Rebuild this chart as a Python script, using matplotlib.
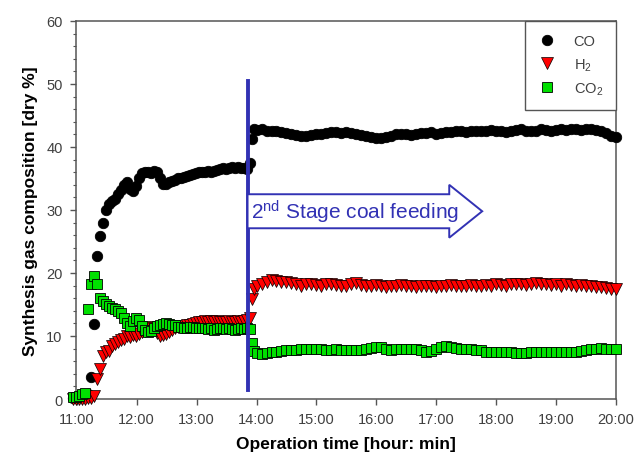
import matplotlib
matplotlib.use("Agg")
import matplotlib.pyplot as plt
from matplotlib.patches import Polygon


# --------------------------------
# Data (minutes after 11:00)
# --------------------------------

time_min = [
    -4, -1, 2, 5, 8, 11, 14, 17, 20, 23, 26, 29, 32, 35, 38, 41, 44, 47, 50, 53,
    56, 59, 62, 65, 68, 71, 74, 77, 80, 83, 86, 89, 92, 95, 98, 101, 104, 107, 110, 113,
    116, 119, 122, 125, 128, 131, 134, 137, 140, 143, 146, 149, 152, 155, 158, 161, 164, 167, 170, 173,
    175, 177,
    180, 185, 190, 195, 200, 205, 210, 215, 220, 225, 230, 235, 240, 245, 250, 255, 260, 265, 270, 275,
    280, 285, 290, 295, 300, 305, 310, 315, 320, 325, 330, 335, 340, 345, 350, 355, 360, 365, 370, 375,
    380, 385, 390, 395, 400, 405, 410, 415, 420, 425, 430, 435, 440, 445, 450, 455, 460, 465, 470, 475,
    480, 485, 490, 495, 500, 505, 510, 515, 520, 525, 530, 535, 540,
]

co = [
    0.2, 0.3, 0.3, 0.4, 0.5, 0.8, 3.5, 11.9, 22.7, 25.9, 28.0, 30.0, 31.0, 31.4, 31.8, 32.6, 33.2, 34.0, 34.4, 33.4,
    33.0, 33.8, 35.0, 35.8, 36.0, 36.1, 35.9, 36.2, 36.0, 35.0, 34.2, 34.2, 34.4, 34.6, 34.8, 35.0, 35.1, 35.3, 35.4, 35.6,
    35.7, 35.9, 36.0, 36.1, 36.1, 36.2, 36.1, 36.2, 36.4, 36.5, 36.6, 36.5, 36.7, 36.8, 36.7, 36.8, 36.6, 36.6, 36.5, 37.4,
    41.3, 42.8,
    42.7, 42.8, 42.6, 42.5, 42.6, 42.4, 42.2, 42.0, 41.9, 41.8, 41.8, 41.9, 42.0, 42.1, 42.2, 42.3, 42.3, 42.2, 42.4, 42.2,
    42.0, 41.9, 41.8, 41.6, 41.5, 41.4, 41.6, 41.8, 42.0, 42.1, 42.0, 41.9, 42.1, 42.2, 42.2, 42.3, 42.1, 42.2, 42.4, 42.3,
    42.5, 42.6, 42.4, 42.5, 42.6, 42.5, 42.6, 42.7, 42.6, 42.5, 42.4, 42.6, 42.7, 42.8, 42.6, 42.5, 42.6, 42.8, 42.7, 42.6,
    42.7, 42.8, 42.7, 42.9, 42.8, 42.7, 42.8, 42.9, 42.7, 42.5, 42.2, 41.8, 41.6,
]

h2 = [
    0.0, 0.0, 0.0, 0.0, 0.0, 0.1, 0.2, 0.4, 3.2, 4.8, 6.8, 7.4, 7.6, 8.4, 8.8, 9.0, 9.3, 9.6, 10.0, 9.8,
    10.1, 10.0, 10.3, 10.6, 10.8, 11.2, 11.4, 11.2, 10.4, 10.0, 10.1, 10.3, 10.6, 10.9, 11.2, 11.4, 11.5, 11.6, 11.7, 11.8,
    11.9, 12.1, 12.2, 12.3, 12.4, 12.3, 12.4, 12.3, 12.4, 12.3, 12.2, 12.3, 12.4, 12.3, 12.2, 12.4, 12.3, 12.4, 12.5, 12.9,
    15.9, 17.5,
    18.0, 18.3, 18.6, 18.9, 18.8, 18.6, 18.5, 18.4, 18.2, 18.0, 18.2, 18.3, 18.1, 18.0, 18.2, 18.3, 18.1, 17.9, 18.0, 18.2,
    18.4, 18.1, 17.9, 18.0, 18.1, 17.9, 17.7, 17.9, 18.0, 18.1, 18.0, 17.9, 17.8, 17.9, 18.0, 18.0, 17.8, 17.9, 18.0, 18.1,
    18.0, 17.9, 18.0, 18.1, 17.9, 18.0, 18.1, 18.0, 18.2, 18.1, 18.0, 18.2, 18.3, 18.2, 18.1, 18.2, 18.4, 18.3, 18.2, 18.1,
    18.2, 18.0, 18.2, 18.1, 18.0, 18.1, 17.9, 18.0, 17.8, 17.7, 17.6, 17.5, 17.4,
]

co2 = [
    0.3, 0.3, 0.4, 0.8, 0.9, 14.3, 18.3, 19.5, 18.2, 16.0, 15.5, 15.1, 14.8, 14.5, 14.3, 14.0, 13.6, 12.8, 12.0, 11.6,
    12.4, 12.8, 12.6, 11.6, 11.0, 10.6, 10.8, 11.2, 11.6, 11.8, 11.9, 12.0, 11.9, 11.8, 11.7, 11.5, 11.4, 11.3, 11.2, 11.4,
    11.4, 11.3, 11.2, 11.3, 11.2, 11.1, 11.2, 11.0, 11.1, 11.3, 11.2, 11.1, 11.2, 11.1, 11.0, 11.1, 11.2, 11.1, 11.2, 11.1,
    8.9, 7.6,
    7.3, 7.2, 7.3, 7.4, 7.5, 7.6, 7.7, 7.8, 7.8, 7.9, 7.9, 7.9, 7.9, 7.9, 7.8, 7.8, 7.9, 7.8, 7.7, 7.8,
    7.8, 7.8, 7.9, 8.1, 8.3, 8.2, 7.9, 7.8, 7.9, 8.0, 8.0, 7.9, 8.0, 7.8, 7.5, 7.6, 8.0, 8.3, 8.4, 8.2,
    8.1, 8.0, 7.9, 7.9, 7.8, 7.7, 7.5, 7.4, 7.4, 7.4, 7.4, 7.4, 7.3, 7.3, 7.3, 7.4, 7.4, 7.4, 7.4, 7.5,
    7.4, 7.5, 7.4, 7.5, 7.5, 7.6, 7.7, 7.9, 8.0, 8.1, 8.0, 7.9, 7.9,
]

tick_pos = [0, 60, 120, 180, 240, 300, 360, 420, 480, 540]
tick_labels = ["11:00", "12:00", "13:00", "14:00", "15:00",
               "16:00", "17:00", "18:00", "19:00", "20:00"]

feed_time = 171          # 2nd stage coal feeding start (min)
feed_line = (1.5, 50.5)  # vertical extent of marker line
arrow_end = 373
arrow_tip = 406
arrow_mid = 29.8

blue = "#3232b4"
gray = "#555555"


# --------------------------------
# Plot
# --------------------------------

plt.rcParams["font.family"] = ["Liberation Sans", "DejaVu Sans"]
plt.rcParams["mathtext.fontset"] = "custom"
plt.rcParams["mathtext.rm"] = "Liberation Sans"
plt.rcParams["mathtext.it"] = "Liberation Sans:italic"
plt.rcParams["mathtext.bf"] = "Liberation Sans:bold"

fig = plt.figure(figsize=(6.37, 4.56), dpi=100)
ax = fig.add_axes([0.119, 0.1228, 0.848, 0.829])

ax.plot(time_min, co, "o", color="black", markersize=7.5, markeredgecolor="black",
        markeredgewidth=0.6, label="CO", clip_on=False, zorder=3)
ax.plot(time_min, h2, "v", color="red", markersize=8, markeredgecolor="black",
        markeredgewidth=0.5, label="H$_2$", clip_on=False, zorder=4)
ax.plot(time_min, co2, "s", color="#00e000", markersize=7.5, markeredgecolor="black",
        markeredgewidth=0.6, label="CO$_2$", clip_on=False, zorder=5)

# feeding marker line and arrow
ax.plot([feed_time, feed_time], feed_line, color=blue, linewidth=2.8, zorder=6)

arrow = Polygon([
    (feed_time, arrow_mid + 2.7), (arrow_end, arrow_mid + 2.7), (arrow_end, arrow_mid + 4.2),
    (arrow_tip, arrow_mid), (arrow_end, arrow_mid - 4.2), (arrow_end, arrow_mid - 2.7),
    (feed_time, arrow_mid - 2.7)],
    closed=True, facecolor="white", edgecolor=blue, linewidth=1.4, zorder=6)
ax.add_patch(arrow)

ax.text(feed_time + 3, arrow_mid, "2$^{\\mathrm{nd}}$ Stage coal feeding", color=blue,
        fontsize=15, ha="left", va="center", zorder=7)

ax.set_xlim(-1, 540)
ax.set_ylim(0, 60)

ax.set_xticks(tick_pos)
ax.set_xticklabels(tick_labels)
ax.set_yticks(range(0, 61, 10))
ax.set_yticks(range(0, 61, 2), minor=True)

ax.tick_params(axis="both", which="major", direction="out", length=4.5, width=1,
               color=gray, labelcolor="#404040", labelsize=10.5)
ax.tick_params(axis="y", which="major", pad=5)
ax.tick_params(axis="x", which="major", pad=5)
ax.tick_params(axis="y", which="minor", direction="out", length=2.5, width=0.8, color=gray)

for side in ["left", "bottom", "top", "right"]:
    ax.spines[side].set_color(gray)
    ax.spines[side].set_linewidth(1.1)

ax.set_xlabel("Operation time [hour: min]", fontsize=12.5, fontweight="bold", labelpad=7)
ax.set_ylabel("Synthesis gas composition [dry %]", fontsize=12.5, fontweight="bold", labelpad=6)

leg = ax.legend(loc="upper right", borderaxespad=0, fancybox=False, edgecolor=gray,
                framealpha=1, fontsize=10.5, handlelength=1.2, handletextpad=1.2,
                labelspacing=0.55, borderpad=0.9, numpoints=1)
leg.get_frame().set_linewidth(1.0)
for txt in leg.get_texts():
    txt.set_color("#404040")

fig.savefig("out.png", dpi=100)
